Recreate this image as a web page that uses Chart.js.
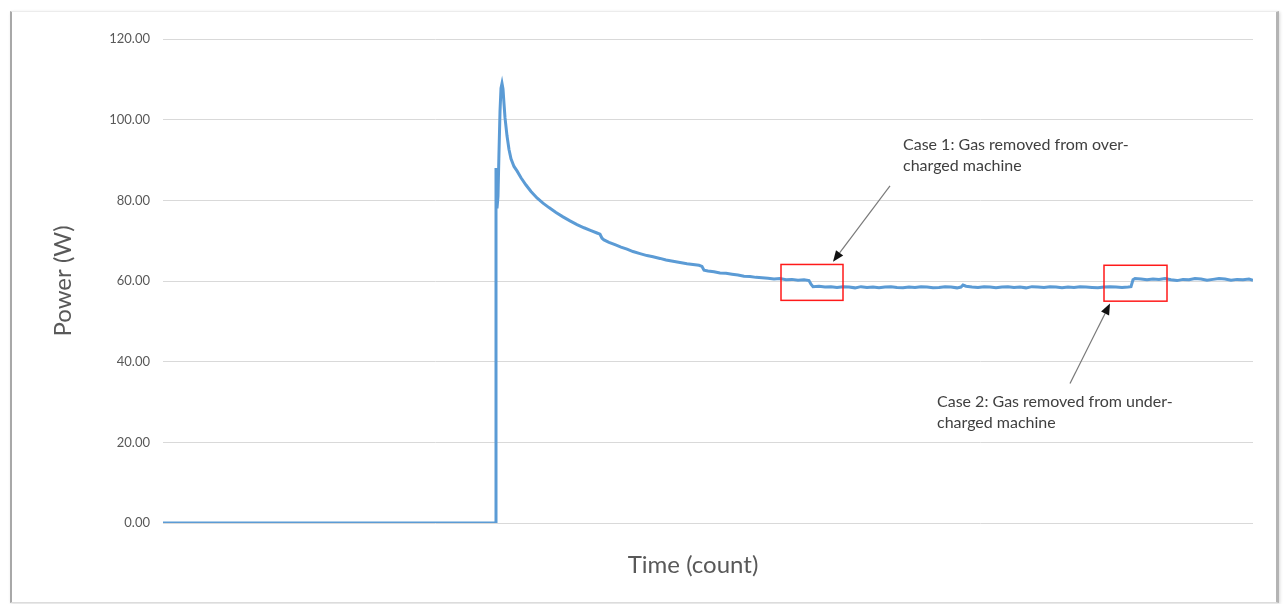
<!DOCTYPE html>
<html>
<head>
<meta charset="utf-8">
<title>Power over time</title>
<script src="https://cdn.jsdelivr.net/npm/chart.js@4"></script>
<style>
    html, body { margin: 0; padding: 0; background: #fff; }
    .frame {
        position: absolute;
        left: 10px; top: 11px;
        width: 1264px; height: 590px;
        border-left: 2px solid #a8a8a8;
        border-right: 3px solid #b4b4b4;
        border-top: 1px solid #ececec;
        border-bottom: 1px solid #dcdcdc;
        box-shadow: 1px 1px 3px rgba(0, 0, 0, 0.15);
    }
    .chart-box { position: absolute; left: 0; top: 0; width: 1283px; height: 604px; }
</style>
</head>
<body>
<div class="frame"></div>
<div class="chart-box"><canvas id="powerChart"></canvas></div>
<script>
// Time (count) and power (W)
const timeCounts = [
    0, 333, 333, 334, 335, 336, 337, 338, 339, 340, 341, 342, 344, 346, 348, 351, 354, 358, 363, 368,
    374, 380, 386, 393, 400, 407, 414, 421, 428, 434, 437, 439, 441, 446, 452, 458, 464, 470, 477, 484,
    490, 497, 503, 510, 517, 524, 530, 536, 539, 541, 545, 551, 557, 563, 569, 575, 581, 587, 593, 599,
    605, 611, 617, 623, 629, 635, 641, 646, 648, 650, 656, 662, 668, 674, 680, 686, 692, 698, 704, 710,
    716, 722, 728, 734, 740, 746, 752, 758, 764, 770, 776, 782, 788, 794, 798, 800, 803, 809, 815, 821,
    827, 833, 839, 845, 851, 857, 863, 869, 875, 881, 887, 893, 899, 905, 911, 917, 923, 929, 935, 941,
    947, 953, 959, 965, 968, 970, 972, 978, 984, 990, 996, 1002, 1008, 1014, 1020, 1026, 1032, 1038, 1044, 1050,
    1056, 1062, 1068, 1074, 1080, 1086, 1090
];
const powerWatts = [
    0, 0, 88, 78, 81, 92, 102, 107.8, 109, 107.6, 104, 100.5, 96, 92.6, 90.3, 88.4, 87.3, 85.6, 83.8, 82.2,
    80.6, 79.3, 78.2, 77.0, 75.9, 74.9, 74.0, 73.2, 72.5, 71.9, 71.6, 70.6, 70.2, 69.6, 69.0, 68.4, 67.9, 67.3, 66.8, 66.3,
    66.0, 65.6, 65.2, 64.9, 64.6, 64.3, 64.1, 63.9, 63.6, 62.7, 62.5, 62.3, 62.0, 61.9, 61.7, 61.5, 61.2, 61.1, 60.9, 60.8,
    60.7, 60.5, 60.6, 60.3, 60.4, 60.2, 60.3, 60.1, 59.2, 58.6, 58.7, 58.5, 58.6, 58.4, 58.6, 58.5, 58.3, 58.6, 58.4, 58.5,
    58.3, 58.5, 58.6, 58.4, 58.3, 58.5, 58.4, 58.6, 58.5, 58.3, 58.4, 58.6, 58.5, 58.3, 58.5, 59.0, 58.7, 58.5, 58.4, 58.6,
    58.5, 58.3, 58.5, 58.6, 58.4, 58.5, 58.3, 58.6, 58.5, 58.4, 58.6, 58.5, 58.3, 58.5, 58.4, 58.6, 58.5, 58.4, 58.3, 58.5,
    58.6, 58.5, 58.4, 58.5, 58.6, 60.3, 60.6, 60.5, 60.3, 60.5, 60.4, 60.6, 60.3, 60.1, 60.4, 60.3, 60.6, 60.5, 60.2, 60.4,
    60.6, 60.5, 60.2, 60.4, 60.3, 60.5, 60.2
];
const yTicks = [0, 20, 40, 60, 80, 100, 120];

// annotations, in chart units
const caseBoxes = [
    { x0: 618, x1: 680, y0: 55.2, y1: 64.1 },
    { x0: 941, x1: 1004, y0: 55.0, y1: 63.9 }
];
const caseArrows = [
    { fromX: 727, fromY: 83.6, toX: 670, toY: 64.8 },
    { fromX: 907, fromY: 34.6, toX: 947, toY: 54.4 }
];
const caseNotes = [
    { x: 740, y: 93.7, lines: ['Case 1: Gas removed from over-', 'charged machine'] },
    { x: 774, y: 30.1, lines: ['Case 2: Gas removed from under-', 'charged machine'] }
];
const xTitle = 'Time (count)';

const notesPlugin = {
    id: 'caseNotes',
    afterDatasetsDraw(chart) {
        const ctx = chart.ctx;
        const xs = chart.scales.x, ys = chart.scales.y;
        ctx.save();

        // red boxes
        ctx.strokeStyle = '#ff1a1a';
        ctx.lineWidth = 1.5;
        caseBoxes.forEach(b => {
            const l = xs.getPixelForValue(b.x0), r = xs.getPixelForValue(b.x1);
            const t = ys.getPixelForValue(b.y1), btm = ys.getPixelForValue(b.y0);
            ctx.strokeRect(l, t, r - l, btm - t);
        });

        // arrows
        caseArrows.forEach(a => {
            const x1 = xs.getPixelForValue(a.fromX), y1 = ys.getPixelForValue(a.fromY);
            const x2 = xs.getPixelForValue(a.toX), y2 = ys.getPixelForValue(a.toY);
            const ang = Math.atan2(y2 - y1, x2 - x1);
            const head = 11;
            ctx.strokeStyle = '#7a7a7a';
            ctx.lineWidth = 1.2;
            ctx.beginPath();
            ctx.moveTo(x1, y1);
            ctx.lineTo(x2 - Math.cos(ang) * head, y2 - Math.sin(ang) * head);
            ctx.stroke();
            ctx.fillStyle = '#111';
            ctx.beginPath();
            ctx.moveTo(x2, y2);
            ctx.lineTo(x2 - head * Math.cos(ang) + 4.5 * Math.sin(ang), y2 - head * Math.sin(ang) - 4.5 * Math.cos(ang));
            ctx.lineTo(x2 - head * Math.cos(ang) - 4.5 * Math.sin(ang), y2 - head * Math.sin(ang) + 4.5 * Math.cos(ang));
            ctx.closePath();
            ctx.fill();
        });

        // texts
        ctx.fillStyle = '#404040';
        ctx.font = '16px Lato';
        ctx.textAlign = 'left';
        ctx.textBaseline = 'middle';
        caseNotes.forEach(n => {
            const x = xs.getPixelForValue(n.x), y = ys.getPixelForValue(n.y);
            n.lines.forEach((line, i) => ctx.fillText(line, x, y + i * 21));
        });

        // x axis title (sits a little left of the plot centre in the original)
        ctx.fillStyle = '#595959';
        ctx.font = '24px Lato';
        ctx.textAlign = 'center';
        ctx.fillText(xTitle, (xs.left + xs.right) / 2 - 15, xs.bottom - 39);
        ctx.restore();
    }
};

document.addEventListener('DOMContentLoaded', function () {
    const ctx = document.getElementById('powerChart').getContext('2d');
    new Chart(ctx, {
        type: 'line',
        data: {
            datasets: [{
                label: 'Power (W)',
                data: timeCounts.map((t, i) => ({ x: t, y: powerWatts[i] })),
                borderColor: '#5b9bd5',
                borderWidth: 3,
                pointRadius: 0,
                tension: 0,
                fill: false
            }]
        },
        options: {
            responsive: true,
            maintainAspectRatio: false,
            animation: false,
            layout: {
                padding: { left: 0, top: 39, right: 30, bottom: 0 }
            },
            scales: {
                x: {
                    type: 'linear',
                    min: 0,
                    max: 1090,
                    grid: { display: false },
                    border: { display: false },
                    ticks: { display: false },
                    afterFit: function (scale) { scale.height = 81; }
                },
                y: {
                    min: 0,
                    max: 120,
                    afterBuildTicks: function (scale) {
                        scale.ticks = yTicks.map(v => ({ value: v }));
                    },
                    grid: { color: '#d9d9d9', lineWidth: 1, drawTicks: false },
                    border: { display: false },
                    ticks: {
                        padding: 13,
                        color: '#595959',
                        font: { family: 'Lato', size: 13 },
                        callback: v => v.toFixed(2)
                    },
                    title: {
                        display: true,
                        text: 'Power (W)',
                        color: '#595959',
                        font: { family: 'Lato', size: 24 },
                        padding: { top: 49, bottom: 0 }
                    },
                    afterFit: function (scale) { scale.width = 163; }
                }
            },
            plugins: {
                legend: { display: false },
                tooltip: { enabled: false }
            }
        },
        plugins: [notesPlugin]
    });
});
</script>
</body>
</html>
